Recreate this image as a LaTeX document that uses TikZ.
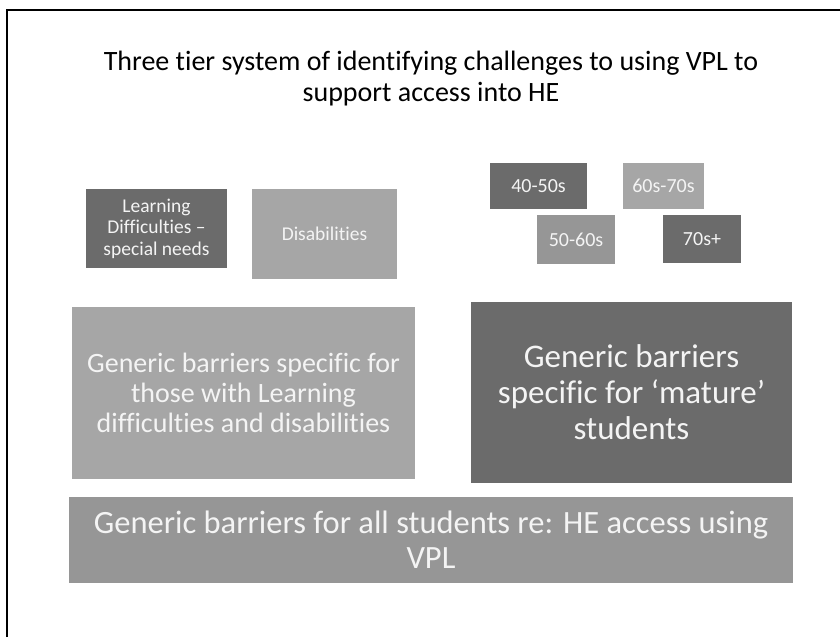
\documentclass[tikz,border=0pt]{standalone}
\usepackage{fontspec}
\setmainfont{Carlito}[Ligatures={NoCommon}]
\usetikzlibrary{positioning}

\definecolor{darkgray}{HTML}{6B6B6B}
\definecolor{midgray}{HTML}{969696}
\definecolor{lightgray}{HTML}{A6A6A6}
\definecolor{boxtext}{HTML}{F4F4F4}

\tikzset{
    tier/.style={fill=#1, text=boxtext, align=center, inner sep=0pt},
    small/.style={font=\fontsize{19.5}{21.5}\selectfont},
    age/.style={font=\fontsize{20}{22}\selectfont},
}

\begin{document}
\begin{tikzpicture}[x=1pt,y=-1pt]
    \useasboundingbox (0,0) rectangle (840,637);
    % frame
    \draw[line width=1.8pt] (7,637) -- (7,10) -- (840,10);

    \node[align=center, font=\fontsize{28}{31}\selectfont] (title) at (431,79)
        {Three tier system of identifying challenges to using VPL to\\support access into HE};

    % top tier
    \node[tier=darkgray, small, minimum width=141pt, minimum height=79pt] (learn) at (156.5,228.5)
        {Learning\\Difficulties --\\special needs};
    \node[tier=lightgray, small, minimum width=145pt, minimum height=90pt] (disab) at (324.5,234)
        {Disabilities};
    \foreach \name/\x/\y/\w/\h/\col/\lab in {
        a4050/538.5/186/97/46/darkgray/40-50s,
        a6070/663.5/186/81/46/lightgray/60s-70s,
        a5060/576/239.5/78/49/midgray/50-60s,
        a70/702/239/78/48/darkgray/70s+} {
        \node[tier=\col, age, minimum width=\w pt, minimum height=\h pt] (\name) at (\x,\y) {\lab};
    }

    % middle tier
    \node[tier=lightgray, font=\fontsize{28}{30}\selectfont, minimum width=343pt, minimum height=172pt] (ldd) at (243.5,393)
        {Generic barriers specific for\\those with Learning\\difficulties and disabilities};
    \node[tier=darkgray, font=\fontsize{33}{36}\selectfont, minimum width=321pt, minimum height=181pt] (mature) at (631.5,392.5)
        {Generic barriers\\specific for `mature'\\students};

    % bottom tier
    \node[tier=midgray, font=\fontsize{32.5}{35}\selectfont, minimum width=724pt, minimum height=86pt] (all) at (431,540)
        {Generic barriers for all students re: HE access using\\VPL};
\end{tikzpicture}
\end{document}
